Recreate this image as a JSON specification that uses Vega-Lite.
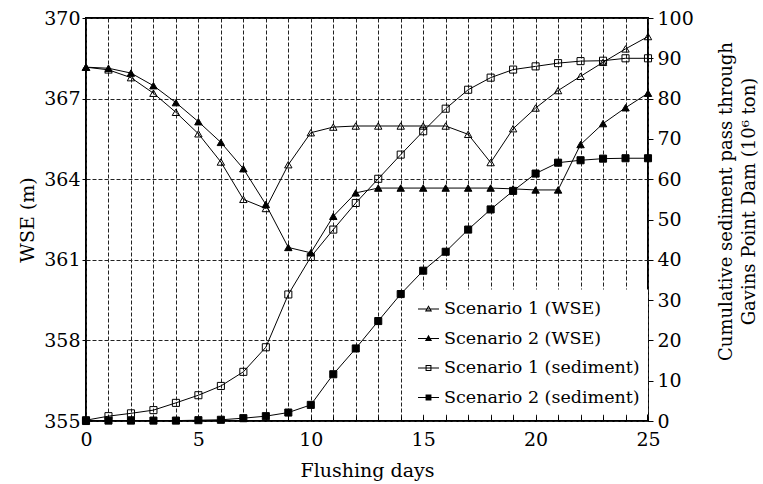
{
  "$schema": "https://vega.github.io/schema/vega-lite/v6.json",
  "width": 562,
  "height": 403,
  "autosize": {"type": "none"},
  "padding": {"left": 86, "top": 18, "right": 115, "bottom": 63},
  "background": "white",
  "config": {
    "font": "DejaVu Serif",
    "view": {"stroke": "black", "strokeWidth": 2},
    "axis": {
      "labelFont": "DejaVu Serif",
      "titleFont": "DejaVu Serif",
      "labelColor": "black", "titleColor": "black",
      "labelFontSize": 19, "titleFontSize": 19, "titleFontWeight": "normal",
      "domain": false, "tickColor": "black", "tickWidth": 1,
      "gridColor": "#222", "gridDash": [4, 2], "gridWidth": 1, "gridOpacity": 1,
      "labelFlush": false, "labelOverlap": false
    },
    "legend": {"labelFont": "DejaVu Serif"}
  },
  "datasets": {
    "wse": [
      {"day":0,"series":"Scenario 1 (WSE)","value":368.17},
      {"day":1,"series":"Scenario 1 (WSE)","value":368.07},
      {"day":2,"series":"Scenario 1 (WSE)","value":367.78},
      {"day":3,"series":"Scenario 1 (WSE)","value":367.2},
      {"day":4,"series":"Scenario 1 (WSE)","value":366.49},
      {"day":5,"series":"Scenario 1 (WSE)","value":365.69},
      {"day":6,"series":"Scenario 1 (WSE)","value":364.64},
      {"day":7,"series":"Scenario 1 (WSE)","value":363.25},
      {"day":8,"series":"Scenario 1 (WSE)","value":362.91},
      {"day":9,"series":"Scenario 1 (WSE)","value":364.54},
      {"day":10,"series":"Scenario 1 (WSE)","value":365.73},
      {"day":11,"series":"Scenario 1 (WSE)","value":365.94},
      {"day":12,"series":"Scenario 1 (WSE)","value":365.98},
      {"day":13,"series":"Scenario 1 (WSE)","value":365.98},
      {"day":14,"series":"Scenario 1 (WSE)","value":365.98},
      {"day":15,"series":"Scenario 1 (WSE)","value":365.98},
      {"day":16,"series":"Scenario 1 (WSE)","value":365.98},
      {"day":17,"series":"Scenario 1 (WSE)","value":365.67},
      {"day":18,"series":"Scenario 1 (WSE)","value":364.62},
      {"day":19,"series":"Scenario 1 (WSE)","value":365.88},
      {"day":20,"series":"Scenario 1 (WSE)","value":366.65},
      {"day":21,"series":"Scenario 1 (WSE)","value":367.3},
      {"day":22,"series":"Scenario 1 (WSE)","value":367.83},
      {"day":23,"series":"Scenario 1 (WSE)","value":368.35},
      {"day":24,"series":"Scenario 1 (WSE)","value":368.85},
      {"day":25,"series":"Scenario 1 (WSE)","value":369.31},
      {"day":0,"series":"Scenario 2 (WSE)","value":368.17},
      {"day":1,"series":"Scenario 2 (WSE)","value":368.13},
      {"day":2,"series":"Scenario 2 (WSE)","value":367.95},
      {"day":3,"series":"Scenario 2 (WSE)","value":367.48},
      {"day":4,"series":"Scenario 2 (WSE)","value":366.85},
      {"day":5,"series":"Scenario 2 (WSE)","value":366.14},
      {"day":6,"series":"Scenario 2 (WSE)","value":365.37},
      {"day":7,"series":"Scenario 2 (WSE)","value":364.39},
      {"day":8,"series":"Scenario 2 (WSE)","value":363.06},
      {"day":9,"series":"Scenario 2 (WSE)","value":361.46},
      {"day":10,"series":"Scenario 2 (WSE)","value":361.26},
      {"day":11,"series":"Scenario 2 (WSE)","value":362.62},
      {"day":12,"series":"Scenario 2 (WSE)","value":363.49},
      {"day":13,"series":"Scenario 2 (WSE)","value":363.67},
      {"day":14,"series":"Scenario 2 (WSE)","value":363.67},
      {"day":15,"series":"Scenario 2 (WSE)","value":363.67},
      {"day":16,"series":"Scenario 2 (WSE)","value":363.67},
      {"day":17,"series":"Scenario 2 (WSE)","value":363.67},
      {"day":18,"series":"Scenario 2 (WSE)","value":363.67},
      {"day":19,"series":"Scenario 2 (WSE)","value":363.64},
      {"day":20,"series":"Scenario 2 (WSE)","value":363.6},
      {"day":21,"series":"Scenario 2 (WSE)","value":363.6},
      {"day":22,"series":"Scenario 2 (WSE)","value":365.29},
      {"day":23,"series":"Scenario 2 (WSE)","value":366.07},
      {"day":24,"series":"Scenario 2 (WSE)","value":366.66},
      {"day":25,"series":"Scenario 2 (WSE)","value":367.2}
    ],
    "sed": [
      {"day":0,"series":"Scenario 1 (sediment)","value":0.2},
      {"day":1,"series":"Scenario 1 (sediment)","value":1.2},
      {"day":2,"series":"Scenario 1 (sediment)","value":1.9},
      {"day":3,"series":"Scenario 1 (sediment)","value":2.7},
      {"day":4,"series":"Scenario 1 (sediment)","value":4.5},
      {"day":5,"series":"Scenario 1 (sediment)","value":6.4},
      {"day":6,"series":"Scenario 1 (sediment)","value":8.7},
      {"day":7,"series":"Scenario 1 (sediment)","value":12.2},
      {"day":8,"series":"Scenario 1 (sediment)","value":18.3},
      {"day":9,"series":"Scenario 1 (sediment)","value":31.4},
      {"day":10,"series":"Scenario 1 (sediment)","value":40.7},
      {"day":11,"series":"Scenario 1 (sediment)","value":47.5},
      {"day":12,"series":"Scenario 1 (sediment)","value":54.1},
      {"day":13,"series":"Scenario 1 (sediment)","value":60.1},
      {"day":14,"series":"Scenario 1 (sediment)","value":66.1},
      {"day":15,"series":"Scenario 1 (sediment)","value":71.9},
      {"day":16,"series":"Scenario 1 (sediment)","value":77.5},
      {"day":17,"series":"Scenario 1 (sediment)","value":82.2},
      {"day":18,"series":"Scenario 1 (sediment)","value":85.2},
      {"day":19,"series":"Scenario 1 (sediment)","value":87.2},
      {"day":20,"series":"Scenario 1 (sediment)","value":88.0},
      {"day":21,"series":"Scenario 1 (sediment)","value":88.8},
      {"day":22,"series":"Scenario 1 (sediment)","value":89.3},
      {"day":23,"series":"Scenario 1 (sediment)","value":89.4},
      {"day":24,"series":"Scenario 1 (sediment)","value":90.0},
      {"day":25,"series":"Scenario 1 (sediment)","value":90.0},
      {"day":0,"series":"Scenario 2 (sediment)","value":0.0},
      {"day":1,"series":"Scenario 2 (sediment)","value":0.1},
      {"day":2,"series":"Scenario 2 (sediment)","value":0.1},
      {"day":3,"series":"Scenario 2 (sediment)","value":0.1},
      {"day":4,"series":"Scenario 2 (sediment)","value":0.1},
      {"day":5,"series":"Scenario 2 (sediment)","value":0.2},
      {"day":6,"series":"Scenario 2 (sediment)","value":0.3},
      {"day":7,"series":"Scenario 2 (sediment)","value":0.7},
      {"day":8,"series":"Scenario 2 (sediment)","value":1.2},
      {"day":9,"series":"Scenario 2 (sediment)","value":2.1},
      {"day":10,"series":"Scenario 2 (sediment)","value":4.0},
      {"day":11,"series":"Scenario 2 (sediment)","value":11.6},
      {"day":12,"series":"Scenario 2 (sediment)","value":18.0},
      {"day":13,"series":"Scenario 2 (sediment)","value":24.8},
      {"day":14,"series":"Scenario 2 (sediment)","value":31.5},
      {"day":15,"series":"Scenario 2 (sediment)","value":37.3},
      {"day":16,"series":"Scenario 2 (sediment)","value":42.0},
      {"day":17,"series":"Scenario 2 (sediment)","value":47.5},
      {"day":18,"series":"Scenario 2 (sediment)","value":52.5},
      {"day":19,"series":"Scenario 2 (sediment)","value":57.1},
      {"day":20,"series":"Scenario 2 (sediment)","value":61.4},
      {"day":21,"series":"Scenario 2 (sediment)","value":64.1},
      {"day":22,"series":"Scenario 2 (sediment)","value":64.7},
      {"day":23,"series":"Scenario 2 (sediment)","value":65.1},
      {"day":24,"series":"Scenario 2 (sediment)","value":65.2},
      {"day":25,"series":"Scenario 2 (sediment)","value":65.2}
    ],
    "leg": [
      {"series":"Scenario 1 (WSE)"},
      {"series":"Scenario 2 (WSE)"},
      {"series":"Scenario 1 (sediment)"},
      {"series":"Scenario 2 (sediment)"}
    ]
  },
  "layer": [
    {
      "data": {"name": "wse"},
      "encoding": {
        "x": {
          "field": "day", "type": "quantitative",
          "scale": {"domain": [0, 25], "nice": false, "zero": false},
          "axis": {
            "orient": "bottom",
            "values": [0, 5, 10, 15, 20, 25],
            "grid": false, "ticks": false, "tickSize": 0, "labelPadding": 9,
            "title": "Flushing days", "titleY": 55, "titleBaseline": "alphabetic"
          }
        },
        "y": {
          "field": "value", "type": "quantitative",
          "scale": {"domain": [355, 370], "nice": false, "zero": false},
          "axis": {
            "orient": "left",
            "values": [355, 358, 361, 364, 367, 370],
            "grid": true, "tickSize": 4, "labelPadding": 2,
            "title": "WSE (m)", "titleX": -53, "titleBaseline": "alphabetic"
          }
        }
      },
      "layer": [
        {"mark": {"type": "line", "color": "black", "strokeWidth": 1}, "encoding": {"detail": {"field": "series"}}},
        {
          "mark": {"type": "point", "shape": "triangle-up", "filled": true, "stroke": "black", "strokeWidth": 1, "size": 55, "opacity": 1},
          "encoding": {
            "fill": {
              "field": "series", "type": "nominal",
              "scale": {"domain": ["Scenario 1 (WSE)", "Scenario 2 (WSE)"], "range": ["transparent", "black"]},
              "legend": null
            }
          }
        }
      ]
    },
    {
      "data": {"name": "sed"},
      "encoding": {
        "x": {
          "field": "day", "type": "quantitative",
          "scale": {"domain": [0, 25], "nice": false, "zero": false},
          "axis": {
            "orient": "bottom",
            "values": [0,1,2,3,4,5,6,7,8,9,10,11,12,13,14,15,16,17,18,19,20,21,22,23,24,25],
            "labels": false, "grid": true, "tickSize": -5, "title": null
          }
        },
        "y": {
          "field": "value", "type": "quantitative",
          "scale": {"domain": [0, 100], "nice": false},
          "axis": {
            "orient": "right",
            "values": [0, 10, 20, 30, 40, 50, 60, 70, 80, 90, 100],
            "grid": false, "tickSize": 5, "labelPadding": 4,
            "title": ["Cumulative sediment pass through", "Gavins Point Dam (10⁶ ton)"],
            "titleFontSize": 18,
            "titleAngle": 270, "titleX": 83, "titleY": 183, "titleBaseline": "alphabetic", "titleAlign": "center", "titleLineHeight": 23
          }
        }
      },
      "layer": [
        {"mark": {"type": "line", "color": "black", "strokeWidth": 1}, "encoding": {"detail": {"field": "series"}}},
        {
          "mark": {"type": "point", "shape": "square", "filled": true, "stroke": "black", "strokeWidth": 1, "size": 50, "opacity": 1},
          "encoding": {
            "fill": {
              "field": "series", "type": "nominal",
              "scale": {"domain": ["Scenario 1 (sediment)", "Scenario 2 (sediment)"], "range": ["transparent", "black"]},
              "legend": null
            }
          }
        }
      ]
    },
    {
      "data": {"name": "leg"},
      "mark": {"type": "point", "filled": true, "color": "black", "fill": "black", "opacity": 0},
      "encoding": {
        "shape": {
          "field": "series", "type": "nominal",
          "scale": {
            "domain": ["Scenario 1 (WSE)", "Scenario 2 (WSE)", "Scenario 1 (sediment)", "Scenario 2 (sediment)"],
            "range": [
              "M-1,-0.05H1V0.05H-1ZM0,-0.36L0.34,0.23L-0.34,0.23ZM0,-0.16L-0.167,0.13L0.167,0.13Z",
              "M-1,-0.05H1V0.05H-1ZM0,-0.36L0.34,0.23L-0.34,0.23Z",
              "M-1,-0.05H1V0.05H-1ZM-0.28,-0.28H0.28V0.28H-0.28ZM-0.18,-0.18V0.18H0.18V-0.18Z",
              "M-1,-0.05H1V0.05H-1ZM-0.28,-0.28H0.28V0.28H-0.28Z"
            ]
          },
          "legend": {
            "title": null, "orient": "none", "legendX": 320, "legendY": 271.5,
            "fillColor": "white", "padding": 8, "symbolOffset": 3, "symbolSize": 441,
            "symbolFillColor": "black",
            "labelFontSize": 17.5, "labelColor": "black",
            "labelOffset": 4, "rowPadding": 9.5, "labelLimit": 0,
            "encode": {"symbols": {
              "stroke": {"value": "transparent"},
              "strokeWidth": {"value": 0},
              "opacity": {"value": 1},
              "fill": {"value": "black"}
            }}
          }
        }
      }
    }
  ],
  "resolve": {"scale": {"x": "independent", "y": "independent", "shape": "independent"}}
}
